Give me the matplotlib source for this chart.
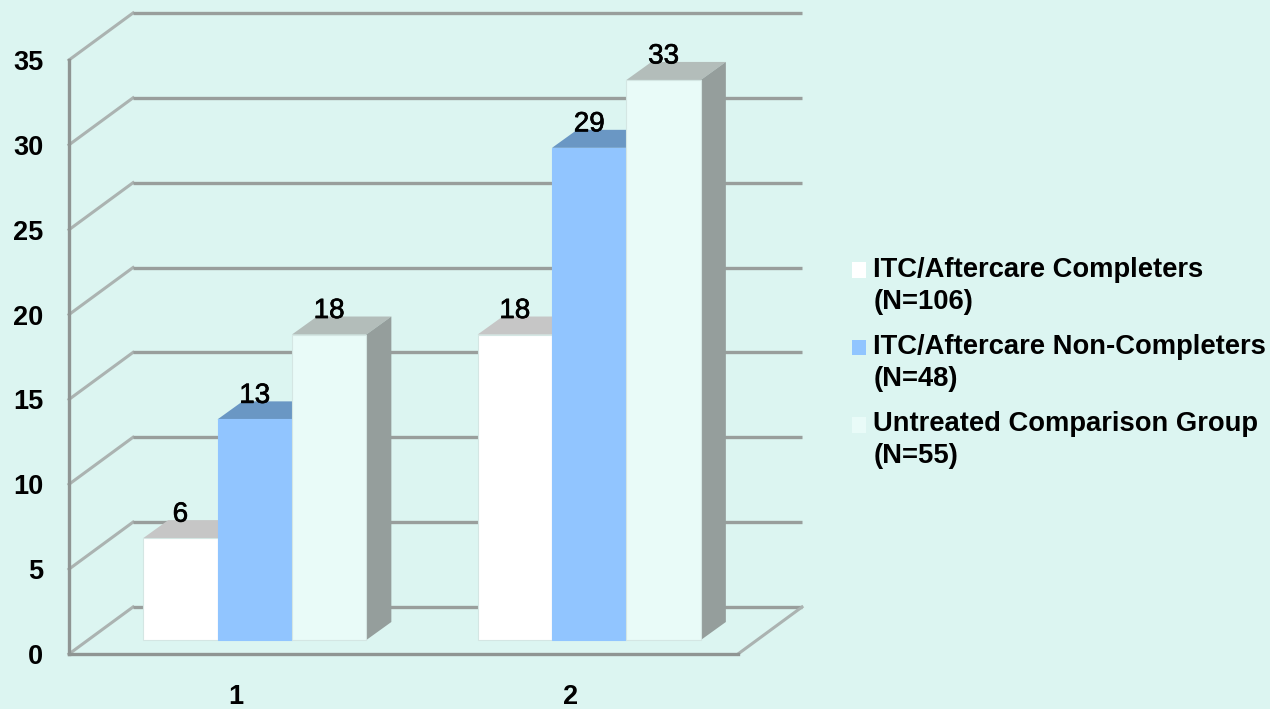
import numpy as np
import matplotlib
matplotlib.use('Agg')
import matplotlib.pyplot as plt
import matplotlib.patheffects as pe
from matplotlib.patches import Patch

plt.rcParams['font.family'] = ['Liberation Sans', 'DejaVu Sans']

categories = [1, 2]
series_names = ['ITC/Aftercare Completers\n(N=106)',
                'ITC/Aftercare Non-Completers\n(N=48)',
                'Untreated Comparison Group\n(N=55)']
completers = [6, 18]
non_completers = [13, 29]
untreated = [18, 33]
y_ticks = [0, 5, 10, 15, 20, 25, 30, 35]

W, H = 1270, 709
BG = '#DCF5F1'
GRID = '#999E9C'
front_colors = ['#FFFFFF', '#91C5FF', '#E9FBF8']
top_colors = ['#C6C6C6', '#6A97C4', '#B3BDBA']
side_color = '#959E9C'

# pixel geometry of the front plane, everything else is relative to it
left, right, bottom, top = 69, 738, 654, 60
px_x = (right - left) / 2.0
px_y = (bottom - top) / 35.0

wall_dx, wall_dy = 64 / px_x, 47 / px_y
bar_off_x, bar_off_y = 18.5 / px_x, 14 / px_y
depth_x, depth_y = 25 / px_x, 18 / px_y
bar_w = 74.4 / px_x

fig = plt.figure(figsize=(W / 100, H / 100), dpi=100, facecolor=BG)
ax = fig.add_axes([left / W, 1 - bottom / H, (right - left) / W, (bottom - top) / H])
ax.set_facecolor('none')
ax.set_xlim(0.5, 2.5)
ax.set_ylim(0, 35)

# back wall and side wall lines
for v in y_ticks:
    ax.plot([0.5, 0.5 + wall_dx], [v, v + wall_dy], color='#ABB3B1', lw=2.2, clip_on=False, zorder=1)
    ax.plot([0.5 + wall_dx, 2.5 + wall_dx], [v + wall_dy, v + wall_dy], color=GRID, lw=2.4,
            clip_on=False, zorder=1, solid_capstyle='butt')
ax.plot([2.5, 2.5 + wall_dx], [0, wall_dy], color='#ABB3B1', lw=2.2, clip_on=False, zorder=1)

for i, values in enumerate([completers, non_completers, untreated]):
    xs = np.array(categories) + bar_off_x + (i - 1) * bar_w
    z = 3 + i
    ax.bar(xs, values, bar_w, bottom=bar_off_y, color=front_colors[i], clip_on=False, zorder=z,
           edgecolor='#D4E6E3' if i != 1 else front_colors[1], linewidth=0.8)
    for x, v in zip(xs, values):
        x0, x1 = x - bar_w / 2, x + bar_w / 2
        y0, y1 = bar_off_y, v + bar_off_y
        ax.fill([x0, x1, x1 + depth_x, x0 + depth_x], [y1, y1, y1 + depth_y, y1 + depth_y],
                color=top_colors[i], lw=0, clip_on=False, zorder=z - 0.5)
        ax.fill([x1, x1 + depth_x, x1 + depth_x, x1],
                [y0, y0 + depth_y, y1 + depth_y, y1],
                color=side_color, lw=0, clip_on=False, zorder=z - 0.5)
        ax.text(x, y1 + 23.5 / px_y, str(v), ha='center', va='center', fontsize=20,
                color='#000000', zorder=10, clip_on=False,
                path_effects=[pe.withStroke(linewidth=0.5, foreground='#000000')])

for s in ['top', 'right']:
    ax.spines[s].set_visible(False)
for s in ['left', 'bottom']:
    ax.spines[s].set_color('#8F9593')
    ax.spines[s].set_linewidth(2.4)

ax.set_yticks(y_ticks)
ax.set_xticks(categories)
ax.tick_params(axis='both', length=0, labelsize=19.5)
ax.tick_params(axis='y', pad=18.5)
ax.tick_params(axis='x', pad=21.5)
for lab in ax.get_xticklabels() + ax.get_yticklabels():
    lab.set_fontweight('bold')

handles = [Patch(facecolor=c, edgecolor='none') for c in front_colors]
leg = fig.legend(handles, series_names, loc='upper left', bbox_to_anchor=(852 / W, 1 - 257 / H),
                 frameon=False, prop={'size': 19.7, 'weight': 'bold'}, handlelength=0.52,
                 handleheight=0.52, handletextpad=0.26, labelspacing=0.7, borderpad=0,
                 borderaxespad=0, alignment='left')
for t in leg.get_texts():
    t.set_linespacing(1.3)
# swatches sit beside the first text line, not the middle of the entry
for h in leg.legend_handles:
    h.set_y(h.get_y() + 11.5)

fig.savefig('out.png', dpi=100, facecolor=BG)
